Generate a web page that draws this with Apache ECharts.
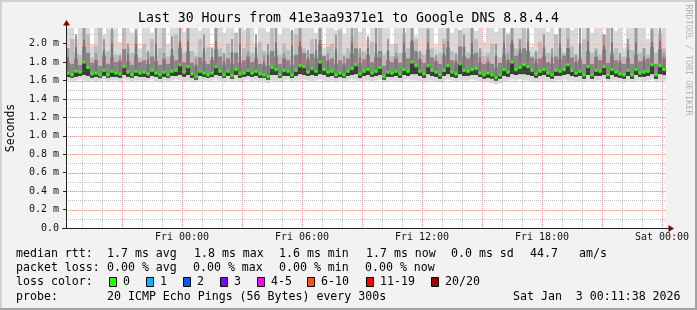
<!DOCTYPE html>
<html><head><meta charset="utf-8">
<script src="https://cdn.jsdelivr.net/npm/echarts@6/dist/echarts.min.js"></script>
<style>html,body{margin:0;padding:0;background:#f2f2f2}#c{width:697px;height:310px}</style>
</head><body><div id="c"></div>
<script>
// ---------------- data ----------------
const titleText = 'Last 30 Hours from 41e3aa9371e1 to Google DNS 8.8.4.4';
const yAxisTitle = 'Seconds';
const sideText = 'RRDTOOL / TOBI OETIKER';
const xTickHours = [0, 6, 12, 18, 24];
const xTickLabels = ['Fri 00:00', 'Fri 06:00', 'Fri 12:00', 'Fri 18:00', 'Sat 00:00'];
const yTickValues = [0, 0.2, 0.4, 0.6, 0.8, 1.0, 1.2, 1.4, 1.6, 1.8, 2.0];
const slotStart = -5.8;   // hours relative to Fri 00:00 (Thu 18:12)
const slotHours = 0.2;    // 12-minute slots
const yMax = 2.17;

const medianRtt = [
 1.68,1.66,1.70,1.69,1.80,1.74,1.67,1.68,1.66,1.71,
 1.66,1.70,1.68,1.67,1.75,1.69,1.66,1.70,1.68,1.69,
 1.67,1.71,1.68,1.66,1.69,1.66,1.70,1.71,1.77,1.69,
 1.75,1.67,1.64,1.70,1.68,1.66,1.68,1.75,1.70,1.66,
 1.70,1.65,1.72,1.67,1.68,1.71,1.68,1.70,1.67,1.66,
 1.64,1.74,1.72,1.66,1.71,1.70,1.66,1.71,1.76,1.75,
 1.69,1.73,1.70,1.80,1.72,1.69,1.70,1.66,1.68,1.66,
 1.70,1.73,1.77,1.67,1.70,1.72,1.68,1.70,1.74,1.64,
 1.69,1.68,1.70,1.67,1.72,1.70,1.80,1.76,1.70,1.67,
 1.76,1.71,1.69,1.66,1.71,1.76,1.69,1.67,1.78,1.71,
 1.70,1.72,1.73,1.68,1.66,1.68,1.66,1.63,1.66,1.72,
 1.69,1.80,1.72,1.74,1.77,1.75,1.71,1.67,1.70,1.72,
 1.68,1.66,1.71,1.70,1.72,1.77,1.71,1.68,1.70,1.66,
 1.75,1.66,1.71,1.70,1.75,1.66,1.72,1.69,1.67,1.66,
 1.71,1.66,1.72,1.68,1.69,1.70,1.77,1.66,1.76,1.72];

const smokeMax = [
 2.2,2.2,2.05,2.2,2.2,2.2,1.98,2.2,2.2,2.1,
 2.2,2.14,2.2,2.02,2.2,2.2,2.12,2.2,1.95,2.2,
 2.2,2.12,2.2,2.2,2.15,2.0,2.2,2.2,2.2,2.13,
 2.06,2.2,2.2,2.14,2.2,2.2,1.97,2.2,2.2,2.12,
 2.2,2.2,2.08,2.2,2.15,2.2,2.2,2.0,2.2,2.2,
 2.13,2.2,2.2,2.1,2.2,2.2,2.14,2.2,2.03,2.2,
 2.2,2.2,2.12,2.2,1.96,2.2,2.2,2.15,2.2,2.11,
 2.2,2.2,2.2,2.13,2.2,2.04,2.2,2.2,2.14,2.2,
 2.2,2.0,2.2,2.2,2.13,2.2,2.2,2.09,2.2,2.2,
 2.15,2.2,1.98,2.2,2.2,2.2,2.12,2.2,2.06,2.2,
 2.2,2.2,2.14,2.2,2.02,2.2,2.2,2.13,2.2,2.2,
 2.12,2.2,2.2,2.2,2.2,2.14,1.97,2.2,2.2,2.2,
 2.13,2.2,2.08,2.2,2.2,2.2,2.15,2.2,2.0,2.2,
 2.2,2.12,2.2,2.2,2.1,2.2,2.2,2.14,2.2,1.96,
 2.2,2.2,2.13,2.2,2.2,2.05,2.2,2.2,2.14,2.2];

const smokeMidHigh = [
 1.95,2.05,1.90,1.88,2.2,2.10,1.85,1.98,2.2,1.90,
 1.92,2.15,1.88,1.86,2.2,1.95,1.90,2.08,1.85,2.00,
 1.90,2.05,1.88,1.95,2.2,1.86,1.93,2.10,2.00,1.90,
 2.2,1.92,1.87,2.05,1.90,1.96,1.85,2.2,1.95,1.88,
 2.00,1.90,2.12,1.86,1.95,2.2,1.90,1.88,2.02,1.92,
 1.90,2.2,1.95,1.88,2.00,1.93,1.87,2.10,2.2,1.95,
 1.90,2.05,1.88,2.2,1.86,1.97,2.00,1.90,2.15,1.88,
 1.95,2.08,2.2,1.90,1.92,1.86,2.02,1.90,2.2,1.88,
 1.93,1.87,2.00,1.90,2.10,1.95,2.2,2.05,1.90,1.88,
 2.2,1.95,1.86,1.90,2.05,2.2,1.92,1.88,2.15,1.97,
 1.90,2.2,2.05,1.92,1.87,1.90,2.00,1.86,1.85,1.95,
 2.10,2.2,1.95,2.05,2.2,1.93,1.87,1.90,2.02,1.95,
 1.90,1.88,2.10,1.95,1.90,2.2,1.97,1.88,1.86,2.05,
 2.2,1.90,1.95,1.88,2.10,2.2,1.92,1.95,1.87,1.86,
 2.00,1.93,2.2,1.90,1.95,1.88,2.2,1.90,2.10,1.95];

const smokeDarkHigh = [
 1.80,1.78,1.84,1.77,1.97,1.90,1.79,1.82,1.76,1.87,
 1.78,1.85,1.80,1.82,1.94,1.81,1.77,1.88,1.80,1.82,
 1.78,1.86,1.81,1.77,1.84,1.78,1.87,1.82,1.95,1.80,
 1.92,1.79,1.76,1.85,1.81,1.78,1.82,1.94,1.86,1.77,
 1.84,1.78,1.90,1.79,1.82,1.87,1.80,1.84,1.78,1.77,
 1.76,1.92,1.86,1.78,1.85,1.82,1.77,1.88,1.97,1.90,
 1.82,1.89,1.84,2.00,1.87,1.81,1.84,1.78,1.82,1.77,
 1.84,1.90,1.95,1.79,1.83,1.88,1.80,1.85,1.92,1.76,
 1.82,1.80,1.86,1.79,1.90,1.84,2.02,1.92,1.83,1.79,
 1.94,1.85,1.81,1.78,1.87,1.96,1.82,1.79,1.97,1.86,
 1.84,1.88,1.90,1.80,1.78,1.81,1.78,1.74,1.79,1.88,
 1.82,2.00,1.87,1.90,1.95,1.92,1.85,1.79,1.84,1.87,
 1.80,1.78,1.86,1.83,1.87,1.95,1.85,1.80,1.83,1.78,
 1.92,1.78,1.86,1.82,1.94,1.79,1.88,1.82,1.79,1.78,
 1.85,1.78,1.88,1.81,1.82,1.84,1.96,1.78,1.94,1.86];

const smokeStreak = [
 1.95,0,2.1,0,2.2,0,0,1.9,0,2.05,
 0,2.2,0,1.88,0,2.0,0,2.15,0,0,
 1.92,0,2.2,0,1.9,0,2.08,0,2.2,0,
 2.2,0,1.85,0,2.1,0,1.95,2.2,0,1.9,
 0,2.05,0,2.2,0,1.92,0,2.1,0,1.88,
 2.0,0,2.2,0,1.9,0,2.15,0,2.2,0,
 1.93,0,2.05,2.2,0,1.9,0,2.1,0,1.86,
 0,2.2,0,1.95,0,2.08,0,2.2,1.9,0,
 2.05,0,1.9,0,2.2,0,2.2,0,1.92,0,
 2.15,0,1.88,0,2.0,2.2,0,1.9,0,2.1,
 0,2.2,0,1.95,0,1.85,0,2.0,0,2.2,
 1.9,2.2,0,2.05,0,2.2,0,1.92,0,2.1,
 0,1.95,0,2.2,0,2.05,0,1.88,2.2,0,
 2.2,0,1.93,0,2.1,0,2.2,0,1.9,0,
 2.05,0,2.2,0,1.95,0,2.15,0,2.2,1.9];

const smokeDarkLow = [
 1.64,1.63,1.64,1.65,1.66,1.65,1.63,1.64,1.63,1.65,
 1.63,1.64,1.64,1.63,1.66,1.64,1.63,1.65,1.64,1.64,
 1.63,1.65,1.64,1.62,1.64,1.63,1.65,1.65,1.66,1.64,
 1.66,1.63,1.61,1.65,1.64,1.63,1.64,1.66,1.65,1.63,
 1.65,1.62,1.66,1.63,1.64,1.65,1.64,1.65,1.63,1.63,
 1.61,1.66,1.66,1.63,1.65,1.65,1.63,1.65,1.67,1.66,
 1.65,1.66,1.65,1.67,1.66,1.64,1.65,1.63,1.64,1.63,
 1.65,1.66,1.67,1.63,1.65,1.66,1.64,1.65,1.66,1.61,
 1.64,1.64,1.65,1.63,1.66,1.65,1.67,1.67,1.65,1.63,
 1.67,1.65,1.64,1.62,1.65,1.67,1.64,1.63,1.67,1.65,
 1.65,1.66,1.66,1.64,1.62,1.63,1.62,1.60,1.62,1.65,
 1.64,1.67,1.66,1.67,1.67,1.66,1.65,1.63,1.65,1.66,
 1.64,1.62,1.65,1.65,1.66,1.67,1.65,1.64,1.65,1.62,
 1.66,1.62,1.65,1.65,1.66,1.62,1.66,1.64,1.63,1.62,
 1.65,1.62,1.66,1.64,1.64,1.65,1.67,1.62,1.67,1.66];

const smokeMin = [
 1.60,1.59,1.60,1.61,1.60,1.59,1.60,1.58,1.60,1.61,
 1.59,1.60,1.60,1.58,1.61,1.60,1.59,1.60,1.60,1.59,
 1.60,1.61,1.59,1.58,1.60,1.59,1.60,1.61,1.60,1.59,
 1.60,1.59,1.58,1.60,1.60,1.59,1.60,1.61,1.59,1.58,
 1.60,1.59,1.60,1.59,1.60,1.61,1.59,1.60,1.59,1.58,
 1.57,1.60,1.60,1.59,1.60,1.61,1.59,1.60,1.60,1.61,
 1.60,1.59,1.60,1.61,1.60,1.59,1.60,1.58,1.60,1.59,
 1.60,1.61,1.60,1.59,1.60,1.60,1.59,1.60,1.61,1.58,
 1.59,1.60,1.60,1.59,1.60,1.61,1.60,1.60,1.59,1.58,
 1.60,1.60,1.59,1.58,1.60,1.61,1.60,1.59,1.60,1.60,
 1.60,1.61,1.60,1.59,1.58,1.58,1.57,1.56,1.57,1.59,
 1.60,1.61,1.60,1.61,1.60,1.60,1.59,1.58,1.60,1.60,
 1.59,1.58,1.60,1.60,1.61,1.60,1.60,1.59,1.59,1.58,
 1.60,1.59,1.60,1.60,1.61,1.59,1.60,1.60,1.59,1.58,
 1.60,1.59,1.60,1.60,1.59,1.60,1.61,1.59,1.60,1.60];

const rttLabel = 'median rtt:';
const rttStats = ['1.7 ms avg', '1.8 ms max', '1.6 ms min', '1.7 ms now', '0.0 ms sd', '44.7', 'am/s'];
const lossLabel = 'packet loss:';
const lossStats = ['0.00 % avg', '0.00 % max', '0.00 % min', '0.00 % now'];
const lossColorLabel = 'loss color:';
const lossLabels = ['0', '1', '2', '3', '4-5', '6-10', '11-19', '20/20'];
const lossColors = ['#26ff00', '#00b8ff', '#0059ff', '#7e00ff', '#ff00ff', '#ff5500', '#ff0000', '#a10000'];
const probeLabel = 'probe:';
const probeText = '20 ICMP Echo Pings (56 Bytes) every 300s';
const stampText = 'Sat Jan  3 00:11:38 2026';

// ---------------- layout / styles ----------------
const MONO = "'DejaVu Sans Mono', monospace";
const GRID = { left: 66, right: 31, top: 28, bottom: 82 };
const xMin = slotStart, xMax = slotStart + medianRtt.length * slotHours;

function bandSeries(lowArr, highArr, color, z) {
  const data = lowArr.map((v, i) => [slotStart + i * slotHours, v, highArr[i]]);
  return {
    type: 'custom', z: z, silent: true, data: data, encode: { x: 0, y: [1, 2] },
    renderItem: function (params, api) {
      const t = api.value(0);
      const a = api.value(1);
      const b = Math.min(api.value(2), yMax);
      const p1 = api.coord([t, b]);
      const p2 = api.coord([t + slotHours, a]);
      return { type: 'rect', shape: { x: p1[0], y: p1[1], width: p2[0] - p1[0], height: p2[1] - p1[1] },
               style: { fill: color } };
    }
  };
}

const streakSeries = {
  type: 'custom', z: 4, silent: true,
  data: smokeStreak.map((v, i) => [slotStart + i * slotHours, medianRtt[i], v]),
  encode: { x: 0, y: [1, 2] },
  renderItem: function (params, api) {
    const top = api.value(2);
    if (!top) return null;
    const t = api.value(0);
    const p1 = api.coord([t, Math.min(top, yMax)]);
    const p2 = api.coord([t, api.value(1)]);
    return { type: 'group', children: [
      { type: 'rect', shape: { x: p1[0] + 1, y: p1[1], width: 2, height: p2[1] - p1[1] }, style: { fill: '#9a9a9a' } },
      { type: 'rect', shape: { x: p1[0] + 1.5, y: p1[1] + (p2[1] - p1[1]) * 0.35, width: 1, height: (p2[1] - p1[1]) * 0.65 }, style: { fill: '#555555' } }
    ] };
  }
};

const medianData = medianRtt.map((v, i) => [slotStart + i * slotHours, v]);
const vGridHours = []; for (let h = Math.ceil(xMin); h < xMax; h++) vGridHours.push(h);
const hGridVals = []; for (let k = 1; k <= 21; k++) hGridVals.push(k / 10);

function gridSeries(z, red, gray) {
  return {
    type: 'custom', z: z, silent: true,
    data: vGridHours.map(h => [h, 0]).concat(hGridVals.map(v => [null, v])),
    renderItem: function (params, api) {
      const h = api.value(0), v = api.value(1);
      if (params.dataIndex < vGridHours.length) {
        const p0 = api.coord([h, 0]), p1 = api.coord([h, yMax]);
        const x = Math.round(p0[0]) + 0.5;
        const major = ((h % 3) + 3) % 3 === 0;
        return { type: 'line', shape: { x1: x, y1: p1[1], x2: x, y2: p0[1] },
          style: { stroke: major ? red : gray, lineWidth: 1, lineDash: [1, 1] } };
      } else {
        const p0 = api.coord([xMin, v]), p1 = api.coord([xMax, v]);
        const y = Math.round(p0[1]) + 0.5;
        const major = Math.round(v * 10) % 2 === 0;
        return { type: 'line', shape: { x1: p0[0], y1: y, x2: p1[0], y2: y },
          style: { stroke: major ? red : gray, lineWidth: 1, lineDash: [1, 1] } };
      }
    }
  };
}

const medianSeries = {
  type: 'custom', z: 8, silent: true, data: medianData, encode: { x: 0, y: 1 },
  renderItem: function (params, api) {
    const p = api.coord([api.value(0), api.value(1)]);
    return { type: 'rect', shape: { x: p[0] + 0.5, y: p[1] - 1.5, width: 3, height: 3 },
             style: { fill: lossColors[0] } };
  }
};

// graphics
const W = 697, H = 310;
const graphics = [];
graphics.push({ type: 'rect', shape: { x: 0, y: 0, width: W, height: 2 }, style: { fill: '#d2d2d2' }, z: 0 });
graphics.push({ type: 'rect', shape: { x: 0, y: 0, width: 2, height: H }, style: { fill: '#d2d2d2' }, z: 0 });
graphics.push({ type: 'rect', shape: { x: W - 2, y: 0, width: 2, height: H }, style: { fill: '#a2a2a2' }, z: 0 });
graphics.push({ type: 'rect', shape: { x: 0, y: H - 2, width: W, height: 2 }, style: { fill: '#a2a2a2' }, z: 0 });
graphics.push({ type: 'line', shape: { x1: 66.5, y1: 25, x2: 66.5, y2: 228.5 }, style: { stroke: '#222', lineWidth: 1 }, z: 50 });
graphics.push({ type: 'line', shape: { x1: 62, y1: 228.5, x2: 669, y2: 228.5 }, style: { stroke: '#222', lineWidth: 1 }, z: 50 });
graphics.push({ type: 'polygon', shape: { points: [[63, 25.5], [70, 25.5], [66.5, 20]] }, style: { fill: '#8b0000' }, z: 50 });
graphics.push({ type: 'polygon', shape: { points: [[668.5, 225], [668.5, 232], [674, 228.5]] }, style: { fill: '#8b0000' }, z: 50 });
function txt(x, y, s, size, align) {
  return { type: 'text', x: x, y: y, z: 60,
    style: { text: s, font: size + 'px ' + MONO, fill: '#000', textAlign: align || 'left', textVerticalAlign: 'middle' } };
}
graphics.push(txt(348.5, 18.5, titleText, 13.2, 'center'));
graphics.push({ type: 'text', x: 11, y: 128, rotation: Math.PI / 2, z: 60,
  style: { text: yAxisTitle, font: '11.5px ' + MONO, fill: '#000', textAlign: 'center', textVerticalAlign: 'middle' } });
graphics.push({ type: 'text', x: 688, y: 60, rotation: -Math.PI / 2, z: 60,
  style: { text: sideText, font: '8.4px ' + MONO, fill: '#b4b4b4', textAlign: 'center', textVerticalAlign: 'middle' } });

const LF = 11.6;
const row1 = 254, row2 = 268.3, row3 = 282.3, row4 = 296.7;
graphics.push(txt(16, row1, rttLabel, LF));
[107, 194, 279, 366, 451, 530, 579].forEach((x, i) => graphics.push(txt(x, row1, rttStats[i], LF)));
graphics.push(txt(16, row2, lossLabel, LF));
[107, 193, 279, 365].forEach((x, i) => graphics.push(txt(x, row2, lossStats[i], LF)));
graphics.push(txt(16, row3, lossColorLabel, LF));
[109, 146, 183, 220, 257, 307, 366, 431].forEach((x, i) => {
  graphics.push({ type: 'rect', z: 60, shape: { x: x + 0.5, y: 277.5, width: 7, height: 9 },
    style: { fill: lossColors[i], stroke: '#000', lineWidth: 1 } });
  graphics.push(txt(x + 14, row3, lossLabels[i], LF));
});
graphics.push(txt(16, row4, probeLabel, LF));
graphics.push(txt(107, row4, probeText, LF));
graphics.push(txt(513, row4, stampText, LF));

const option = {
  animation: false,
  backgroundColor: '#f2f2f2',
  grid: Object.assign({ show: true, backgroundColor: '#ffffff', borderWidth: 0 }, GRID),
  xAxis: {
    type: 'value', min: xMin, max: xMax,
    axisLine: { show: false, onZero: false }, splitLine: { show: false },
    axisTick: { show: false },
    axisLabel: {
      customValues: xTickHours, margin: 3, lineHeight: 12,
      fontFamily: MONO, fontSize: 10, color: '#111',
      formatter: function (v) { const k = xTickHours.indexOf(Math.round(v)); return k >= 0 ? xTickLabels[k] : ''; }
    }
  },
  yAxis: {
    type: 'value', min: 0, max: yMax,
    axisLine: { show: false, onZero: false }, splitLine: { show: false },
    axisTick: { show: true, length: 3, customValues: yTickValues, lineStyle: { color: '#222' } },
    axisLabel: {
      customValues: yTickValues, margin: 7,
      fontFamily: MONO, fontSize: 10, color: '#111',
      formatter: function (v) { return Math.abs(v) < 1e-9 ? '0.0' : v.toFixed(1) + ' m'; }
    }
  },
  graphic: graphics,
  series: [
    gridSeries(0, '#f4a3a3', '#cdcdcd'),
    bandSeries(smokeMin, smokeMax, '#d9d9d9', 1),
    bandSeries(smokeDarkLow, smokeMidHigh, '#bdbdbd', 2),
    bandSeries(smokeDarkLow, smokeDarkHigh, '#878787', 3),
    streakSeries,
    bandSeries(smokeDarkLow, medianRtt, '#3c3c3c', 5),
    gridSeries(6, 'rgba(240,110,110,0.35)', 'rgba(150,150,150,0.25)'),
    medianSeries
  ]
};
const chart = echarts.init(document.getElementById('c'), null, { renderer: 'canvas' });
chart.setOption(option);
</script>
</body></html>
